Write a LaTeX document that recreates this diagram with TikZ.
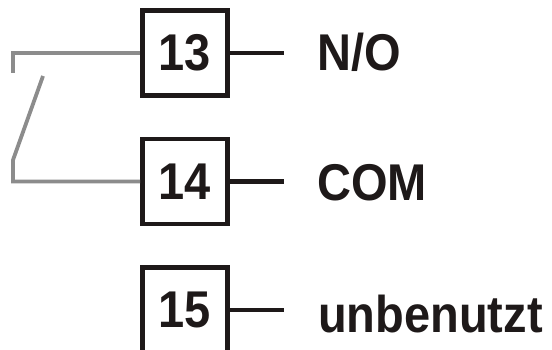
\documentclass[tikz,border=0pt]{standalone}
\usepackage{fontspec}
\setmainfont{Liberation Sans}
\definecolor{wiregray}{RGB}{140,140,140}
\definecolor{inkblack}{RGB}{30,25,25}
\newcommand{\bigtxt}[1]{\scalebox{1}[1.1]{\fontsize{47}{50}\selectfont\bfseries #1}}
\tikzset{
  termbox/.style={draw=inkblack, line width=4.8pt, minimum width=85pt, minimum height=85pt, inner sep=0pt, text=inkblack},
  lead/.style={draw=inkblack, line width=4.5pt},
  relay/.style={draw=wiregray, line width=3.8pt},
  lbl/.style={anchor=base west, inner sep=0pt, text=inkblack}
}
\begin{document}
\begin{tikzpicture}[x=1pt,y=1pt]
\useasboundingbox (0,0) rectangle (552,349);
\node[termbox] (t13) at (185,296) {\bigtxt{13}};
\node[termbox] (t14) at (185,167.5) {\bigtxt{14}};
\node[termbox] (t15) at (185,39) {\bigtxt{15}};
\coordinate (e13) at (284,296);
\coordinate (e14) at (284,167.5);
\coordinate (e15) at (284,39);
\draw[lead] (t13.east) -- (e13);
\draw[lead] (t14.east) -- (e14);
\draw[lead] (t15.east) -- (e15);
\node[lbl] (l13) at (317,278) {\bigtxt{N/O}};
\node[lbl] (l14) at (317,149) {\bigtxt{COM}};
\node[lbl] (l15) at (318,17) {\bigtxt{unbenutzt}};
\coordinate (ca) at (13,276);
\coordinate (sw1) at (43,273);
\coordinate (sw2) at (13,189);
\draw[relay] (t13.west) -| (ca);
\draw[relay] (sw1) -- (sw2) |- (t14.west);
\end{tikzpicture}
\end{document}
